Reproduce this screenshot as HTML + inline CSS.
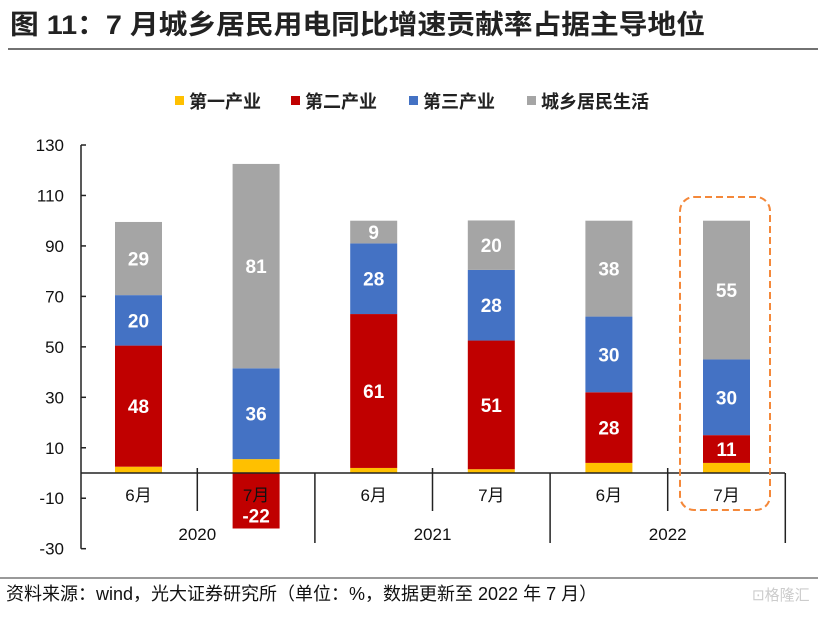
<!DOCTYPE html>
<html><head><meta charset="utf-8"><style>
body{margin:0;background:#fff;}
svg text{font-family:"Liberation Sans","Noto Sans CJK SC",sans-serif;}
</style></head><body>
<svg width="828" height="618" xmlns="http://www.w3.org/2000/svg">
<text x="10" y="34" font-size="27" font-weight="bold" fill="#222" textLength="695" lengthAdjust="spacingAndGlyphs">图 11：7 月城乡居民用电同比增速贡献率占据主导地位</text>
<line x1="8" y1="49" x2="818" y2="49" stroke="#444" stroke-width="1.5"/>
<g id="legend"></g>
<g id="yaxis"></g>
<g id="bars"></g>
<g id="xaxis"></g>
<rect x="680" y="197" width="90" height="313" rx="14" fill="none" stroke="#F4883A" stroke-width="2" stroke-dasharray="7,4"/>
<line x1="0" y1="578" x2="818" y2="578" stroke="#333" stroke-width="1"/>
<text x="6" y="600" font-size="18" fill="#111">资料来源：wind，光大证券研究所（单位：%，数据更新至 2022 年 7 月）</text>
<text x="752" y="600" font-size="15" fill="#ccc">⊡格隆汇</text>
</svg>
<script>
const categories=["6月","7月","6月","7月","6月","7月"];
const years=["2020","2021","2022"];
const primary=[2.5,5.5,2,1.5,4,4];
const secondary=[48,-22,61,51,28,11];
const tertiary=[20,36,28,28,30,30];
const resident=[29,81,9,19.6,38,55];
const yTicks=[130,110,90,70,50,30,10,-10,-30];
const seriesNames=["第一产业","第二产业","第三产业","城乡居民生活"];
const colors=["#FFC000","#C00000","#4472C4","#A5A5A5"];
const NS="http://www.w3.org/2000/svg";
const y=v=>473-v*2.523;
const x=i=>138.5+i*117.6;
function mk(t,a,p){const e=document.createElementNS(NS,t);for(const k in a)e.setAttribute(k,a[k]);p.appendChild(e);return e;}
const yg=document.getElementById('yaxis');
mk('line',{x1:81,y1:y(130),x2:81,y2:y(-30),stroke:'#222','stroke-width':1.5},yg);
yTicks.forEach(v=>{mk('line',{x1:81,y1:y(v),x2:86,y2:y(v),stroke:'#222','stroke-width':1.5},yg);
const t=mk('text',{x:64,y:y(v)+6,'font-size':17,'text-anchor':'end',fill:'#111'},yg);t.textContent=v;

});
const bg=document.getElementById('bars');
const all=[primary,secondary,tertiary,resident];
categories.forEach((c,i)=>{let pos=0,neg=0;
all.forEach((s,k)=>{const v=s[i];let y0,y1;
if(v>=0){y0=pos;y1=pos+v;pos=y1;}else{y0=neg;y1=neg+v;neg=y1;}
const r=mk('rect',{x:x(i)-23.5,y:Math.min(y(y0),y(y1)),width:47,height:Math.abs(y(y1)-y(y0)),fill:colors[k]},bg);


if(k>0){const ty=v>=0?(y(y0)+y(y1))/2+7:y(y1)-6;
const t=mk('text',{x:x(i),y:ty,'font-size':19,'font-weight':'bold','text-anchor':'middle',fill:'#fff'},bg);t.textContent=Math.round(v);

}});});
const xg=document.getElementById('xaxis');
mk('line',{x1:81,y1:473,x2:785,y2:473,stroke:'#222','stroke-width':1.5},xg);
categories.forEach((c,i)=>{const t=mk('text',{x:x(i),y:501,'font-size':17,'text-anchor':'middle',fill:'#111'},xg);t.textContent=c;


const bx=x(i)+58.8;if(i%2==0)mk('line',{x1:bx,y1:468,x2:bx,y2:511,stroke:'#222','stroke-width':1.5},xg);
else mk('line',{x1:bx,y1:473,x2:bx,y2:543,stroke:'#222','stroke-width':1.5},xg);});
years.forEach((yr,j)=>{const t=mk('text',{x:(x(2*j)+x(2*j+1))/2,y:540,'font-size':17,'text-anchor':'middle',fill:'#111'},xg);t.textContent=yr;

});
const lg=document.getElementById('legend');
const lx=[175,291,409,527];
seriesNames.forEach((n,k)=>{mk('rect',{x:lx[k],y:96,width:9,height:9,fill:colors[k]},lg);
const t=mk('text',{x:lx[k]+14,y:108,'font-size':18,'font-weight':'bold',fill:'#222'},lg);t.textContent=n;

});
</script>
</body></html>
